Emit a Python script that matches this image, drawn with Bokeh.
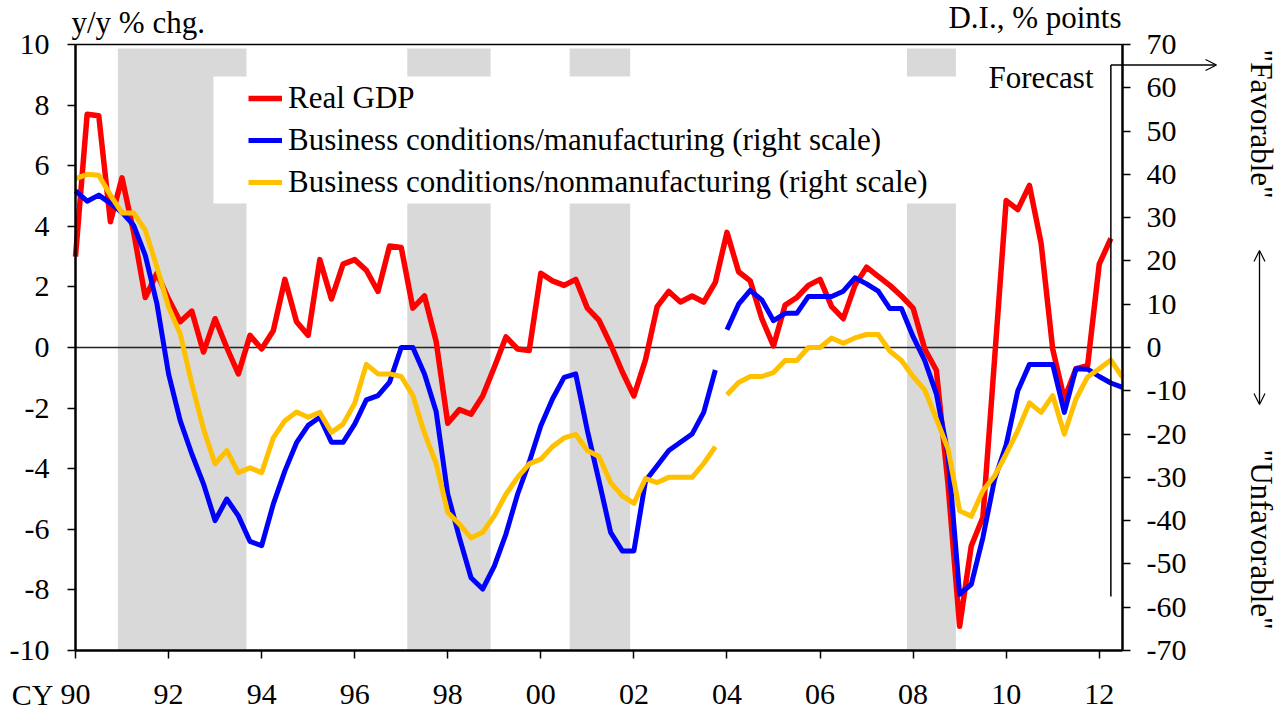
import math
from bokeh.plotting import figure
from bokeh.models import (Range1d, LinearAxis, FixedTicker, Label, Arrow, OpenHead,
                          Legend, LegendItem)
from bokeh.embed import file_html
from bokeh.resources import INLINE

# ---------------- data (quarterly, from 1990Q1) ----------------
start_year = 1990
real_gdp = [
    3.0, 7.7, 7.65, 4.15,
    5.6, 3.8, 1.65, 2.45,
    1.6, 0.85, 1.2, -0.15,
    0.95, 0.0, -0.87, 0.4,
    -0.05, 0.55, 2.25, 0.85,
    0.4, 2.9, 1.6, 2.75,
    2.9, 2.55, 1.85, 3.35,
    3.3, 1.3, 1.7, 0.2,
    -2.5, -2.05, -2.2, -1.6,
    -0.65, 0.35, -0.05, -0.1,
    2.45, 2.2, 2.05, 2.25,
    1.3, 0.9, 0.1, -0.8,
    -1.6, -0.4, 1.35, 1.85,
    1.5, 1.7, 1.5, 2.15,
    3.8, 2.5, 2.2, 0.95,
    0.05, 1.4, 1.65, 2.05,
    2.25, 1.35, 0.95, 2.05,
    2.65, 2.35, 2.05, 1.7,
    1.3, -0.05, -0.75, -4.5,
    -9.2, -6.55, -5.6, -0.4,
    4.85, 4.55, 5.35, 3.45,
    -0.05, -1.7, -0.7, -0.6,
    2.75, 3.6,
]
bc_manufacturing = [
    36.2, 33.8, 35.2, 33.3,
    31.2, 28.2, 21.3, 10.1,
    -6.1, -16.9, -24.6, -31.5,
    -40.0, -35.0, -38.9, -44.8,
    -45.8, -36.2, -28.5, -22.0,
    -18.0, -16.1, -21.9, -21.9,
    -17.7, -12.1, -11.1, -8.0,
    0.0, 0.0, -6.1, -14.8,
    -33.9, -43.9, -53.2, -55.8,
    -50.5, -43.1, -33.9, -26.5,
    -18.1, -11.9, -6.9, -6.1,
    -19.2, -30.8, -42.7, -47.0,
    -47.0, -30.8, -27.3, -23.8,
    -21.9, -20.0, -15.0, -5.2,
    4.1, 10.0, 13.2, 11.0,
    6.2, 7.9, 7.9, 11.8,
    11.8, 11.8, 13.0, 16.1,
    14.7, 13.0, 9.0, 9.0,
    2.5, -3.0, -10.7, -24.6,
    -57.0, -54.7, -43.9, -30.5,
    -22.5, -10.0, -3.9, -3.9,
    -3.9, -15.0, -4.9, -5.0,
    -6.7, -8.2, -9.2,
]
bc_nonmanufacturing = [
    39.0, 40.0, 39.8, 35.2,
    31.1, 31.1, 27.1, 18.6,
    9.3, 3.2, -8.4, -18.8,
    -26.9, -23.8, -28.9, -27.8,
    -28.9, -20.9, -16.9, -14.9,
    -16.1, -15.0, -19.6, -17.7,
    -12.9, -3.9, -6.1, -6.1,
    -6.7, -11.1, -19.8, -26.8,
    -38.1, -40.8, -44.0, -42.7,
    -38.9, -33.9, -30.0, -26.9,
    -25.8, -22.9, -20.9, -20.1,
    -23.8, -25.2, -31.2, -34.3,
    -36.0, -30.3, -31.2, -30.0,
    -30.0, -30.0, -26.8, -22.9,
    -10.9, -8.1, -6.7, -6.7,
    -5.8, -3.0, -3.0, 0.0,
    0.0, 2.2, 1.0, 2.2,
    3.0, 3.0, -0.8, -3.0,
    -6.7, -9.8, -16.5, -23.4,
    -37.7, -39.0, -33.1, -29.7,
    -24.6, -19.2, -12.8, -15.0,
    -11.1, -20.0, -11.9, -6.8,
    -4.9, -2.9, -6.9,
]
# survey series break: new line starts at 2004Q1
series_break_year = 2004

# recession shading (in years)
recession_start = [1990.91, 1997.13, 2000.62, 2007.87]
recession_end = [1993.675, 1998.92, 2001.92, 2008.92]

x_ticks = list(range(1990, 2013, 2))
x_tick_labels = ["90", "92", "94", "96", "98", "00", "02", "04", "06", "08", "10", "12"]
left_ticks = list(range(-10, 11, 2))
right_ticks = list(range(-70, 71, 10))

# ---------------- layout geometry (pixels) ----------------
W, H = 1282, 713
PL, PR, PT, PB = 75, 1122, 44, 650          # plot area box
X0, X1 = 1990.0, 2012.5                      # x axis extent
Y0, Y1 = -10.0, 10.0                         # left axis extent
R0, R1 = -70.0, 70.0                         # right axis extent
kx = (X1 - X0) / (PR - PL)
ky = (Y1 - Y0) / (PB - PT)
ratio = (R1 - R0) / (Y1 - Y0)
BL = 10.5   # label baseline correction (px)

def fx(px):
    return X0 + (px - PL) * kx

def fy(py):
    return Y1 - (py - PT) * ky

def fr(py):
    return fy(py) * ratio

x_range = Range1d(fx(0), fx(W))
y_range = Range1d(fy(H), fy(0))

def qx(n):
    return [start_year + i / 4 for i in range(n)]

x_gdp = qx(len(real_gdp))
x_bc = qx(len(bc_manufacturing))
brk = (series_break_year - start_year) * 4

FONT = "Liberation Serif"
FS = "30px"
FSL = "31px"

p = figure(width=W, height=H, output_backend="svg", toolbar_location=None,
           x_range=x_range, y_range=y_range, min_border=0,
           background_fill_color="white", border_fill_color="white")
p.extra_y_ranges = {"di": Range1d(y_range.start * ratio, y_range.end * ratio)}
p.xgrid.visible = False
p.ygrid.visible = False
p.outline_line_color = None

# shading
band_top = fy(48)
r_band = p.quad(left=recession_start, right=recession_end, bottom=Y0, top=band_top,
                fill_color="#D9D9D9", line_color=None)
r_band.level = "image"
# legend background (white box)
r_mask = p.quad(left=[fx(213)], right=[fx(962)], bottom=[fy(203)], top=[fy(76)],
                fill_color="white", line_color=None)
r_mask.level = "image"

# series
r_gdp = p.line(x_gdp, real_gdp, line_color="#FF0000", line_width=5.5, line_join="round")
r_m1 = p.line(x_bc[:brk], bc_manufacturing[:brk], line_color="#0000FF", line_width=5,
              line_join="round", y_range_name="di")
r_m2 = p.line(x_bc[brk:], bc_manufacturing[brk:], line_color="#0000FF", line_width=5,
              line_join="round", y_range_name="di")
r_n1 = p.line(x_bc[:brk], bc_nonmanufacturing[:brk], line_color="#FFC000", line_width=5,
              line_join="round", y_range_name="di")
r_n2 = p.line(x_bc[brk:], bc_nonmanufacturing[brk:], line_color="#FFC000", line_width=5,
              line_join="round", y_range_name="di")

# axes
def style_axis(ax):
    ax.axis_line_width = 2.5
    ax.axis_line_color = "black"
    ax.major_tick_line_width = 1.5
    ax.major_tick_line_color = "black"
    ax.major_tick_in = 0
    ax.major_tick_out = 8
    ax.minor_tick_line_color = None
    ax.major_label_text_font = FONT
    ax.major_label_text_font_size = FS
    ax.major_label_text_color = "black"

xa = p.xaxis[0]
style_axis(xa)
xa.fixed_location = Y0
xa.bounds = (X0, X1)
xa.ticker = FixedTicker(ticks=x_ticks)
xa.major_label_overrides = {t: lab for t, lab in zip(x_ticks, x_tick_labels)}
xa.major_label_standoff = 26

ya = p.yaxis[0]
style_axis(ya)
ya.fixed_location = X0
ya.bounds = (Y0, Y1)
ya.ticker = FixedTicker(ticks=left_ticks)
ya.major_label_overrides = {t: str(t) for t in left_ticks}
ya.major_label_standoff = 18

ra = LinearAxis(y_range_name="di", fixed_location=X1, bounds=(R0, R1))
style_axis(ra)
ra.ticker = FixedTicker(ticks=right_ticks)
ra.major_label_overrides = {t: str(t) for t in right_ticks}
ra.major_label_standoff = 16
p.add_layout(ra, "right")

def plain_axis(place, loc, width, color, level=None):
    ax = LinearAxis(fixed_location=loc, bounds=(X0, X1), ticker=FixedTicker(ticks=[]))
    ax.axis_line_width = width
    ax.axis_line_color = color
    ax.major_tick_line_color = None
    ax.minor_tick_line_color = None
    ax.major_label_text_font_size = "0px"
    if level:
        ax.level = level
    p.add_layout(ax, place)

plain_axis("above", Y1, 1.5, "black")               # top border of plot area
plain_axis("below", 0, 1.3, "#222222", "underlay")  # zero line

# legend
legend = Legend(items=[
    LegendItem(label="Real GDP", renderers=[r_gdp]),
    LegendItem(label="Business conditions/manufacturing (right scale)", renderers=[r_m1]),
    LegendItem(label="Business conditions/nonmanufacturing (right scale)", renderers=[r_n1]),
], location=(248, H - 203.3), padding=0, spacing=0, margin=0, glyph_width=34,
    glyph_height=42, label_height=42, label_standoff=6, label_text_font=FONT,
    label_text_font_size=FSL, label_text_color="black",
    background_fill_alpha=0, border_line_alpha=0)
p.add_layout(legend, "center")

# texts
def lab(**kw):
    kw.setdefault("text_font", FONT)
    kw.setdefault("text_font_size", FSL)
    kw.setdefault("text_color", "black")
    kw.setdefault("text_baseline", "alphabetic")
    p.add_layout(Label(**kw))

lab(x=fx(71), y=fy(32 - BL), text="y/y % chg.", text_align="left")
lab(x=fx(1121), y=fy(27 - BL), text="D.I., % points", text_align="right")
lab(x=fx(1093), y=fy(87 - BL), text="Forecast", text_align="right")
lab(x=fx(53), y=fy(704 - BL), text="CY", text_align="right", text_font_size=FS)
lab(x=fx(1250 + BL), y=fr(57 - 8), y_range_name="di", text='"Favorable"',
    angle=-math.pi / 2, text_align="left")
lab(x=fx(1250 + BL), y=fr(456 - 7), y_range_name="di", text='"Unfavorable"',
    angle=-math.pi / 2, text_align="left")

# forecast marker (starts at the last actual GDP quarter)
fq = x_gdp[-1]
p.add_layout(Arrow(x_start=fq, y_start=fr(64.5), x_end=fq, y_end=fr(596), end=None,
                   line_width=1.5, line_color="black", y_range_name="di"))
p.add_layout(Arrow(x_start=fq, y_start=fr(64.5), x_end=fx(1216), y_end=fr(64.5),
                   end=OpenHead(size=11, line_width=1.2), line_width=1.3,
                   line_color="black", y_range_name="di"))
# favorable / unfavorable double arrow
p.add_layout(Arrow(x_start=fx(1259), y_start=fr(250), x_end=fx(1259), y_end=fr(404),
                   start=OpenHead(size=11, line_width=1.2), end=OpenHead(size=11, line_width=1.2),
                   line_width=1.3, line_color="black", y_range_name="di"))

open("out.html", "w").write(file_html(p, INLINE))
